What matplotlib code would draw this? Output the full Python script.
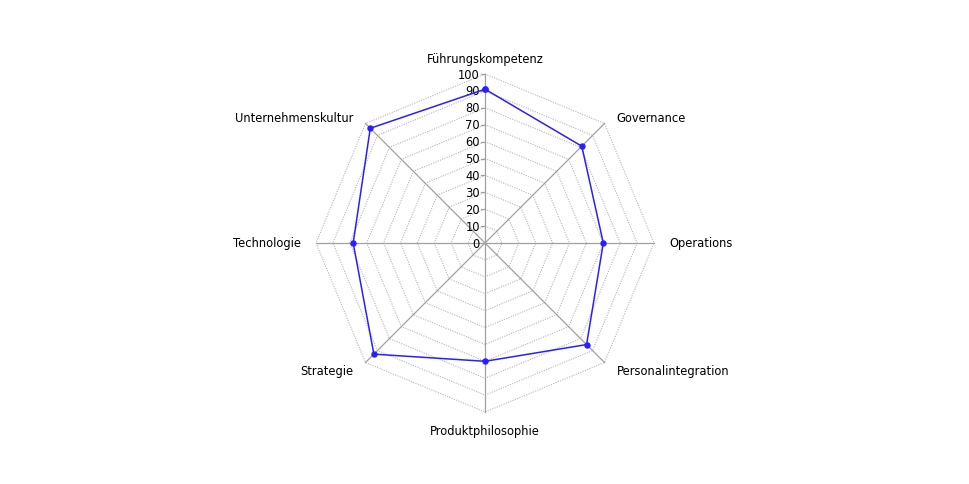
import numpy as np
import matplotlib
matplotlib.use("Agg")
import matplotlib.pyplot as plt

# Kategorien und Werte (im Uhrzeigersinn ab oben)
categories = ["Führungskompetenz", "Governance", "Operations", "Personalintegration",
              "Produktphilosophie", "Strategie", "Technologie", "Unternehmenskultur"]
values = [91, 81, 70, 85, 70, 93, 78, 96]
ticks = [0, 10, 20, 30, 40, 50, 60, 70, 80, 90, 100]

CX, CY = 485, 244      # Mittelpunkt in Pixeln
RPX = 169              # Pixel pro 100 Einheiten
W, H = 970, 485

fig = plt.figure(figsize=(W / 100, H / 100), dpi=100)
ax = fig.add_axes([0, 0, 1, 1])
s = 100 / RPX
ax.set_xlim(-CX * s, (W - CX) * s)
ax.set_ylim(-(H - CY) * s, CY * s)
ax.set_aspect("equal")
ax.axis("off")

n = len(categories)
ang = np.arange(n) * 2 * np.pi / n
sx, sy = np.sin(ang), np.cos(ang)

# Ringe (gepunktet)
for t in ticks[1:]:
    ax.plot(np.append(sx, sx[0]) * t, np.append(sy, sy[0]) * t,
            color="#b4b4b4", lw=0.8, ls=(0, (1, 1.2)), zorder=1)

# Speichen
for i in range(n):
    ax.plot([0, sx[i] * 100], [0, sy[i] * 100], color="#a0a0a0", lw=0.9, zorder=2)

# Skala an der oberen Achse
for t in ticks:
    ax.plot([-2.2, 0], [t, t], color="#a0a0a0", lw=0.9, zorder=2)
    ax.text(-3, t, str(t), ha="right", va="center", fontsize=8.3, color="black")

# Achsenbeschriftungen
for i, name in enumerate(categories):
    x, y = sx[i], sy[i]
    if abs(x) < 1e-6:
        r = 109 if y > 0 else 111
        ax.text(0, r * np.sign(y), name, ha="center", va="center", fontsize=8.3)
    elif abs(y) < 1e-6:
        ax.text(109 * np.sign(x), 0, name, ha="left" if x > 0 else "right",
                va="center", fontsize=8.3)
    else:
        yy = y * 105 if y > 0 else y * 107
        ax.text(x * 109 + 0.8 * np.sign(x), yy, name,
                ha="left" if x > 0 else "right", va="center", fontsize=8.3)

# Datenreihe
v = np.array(values)
ax.plot(np.append(sx * v, sx[0] * v[0]), np.append(sy * v, sy[0] * v[0]),
        color="#2a1fff", lw=1.1, marker="o", ms=3.6, zorder=3)

fig.savefig("out.png", dpi=100)
